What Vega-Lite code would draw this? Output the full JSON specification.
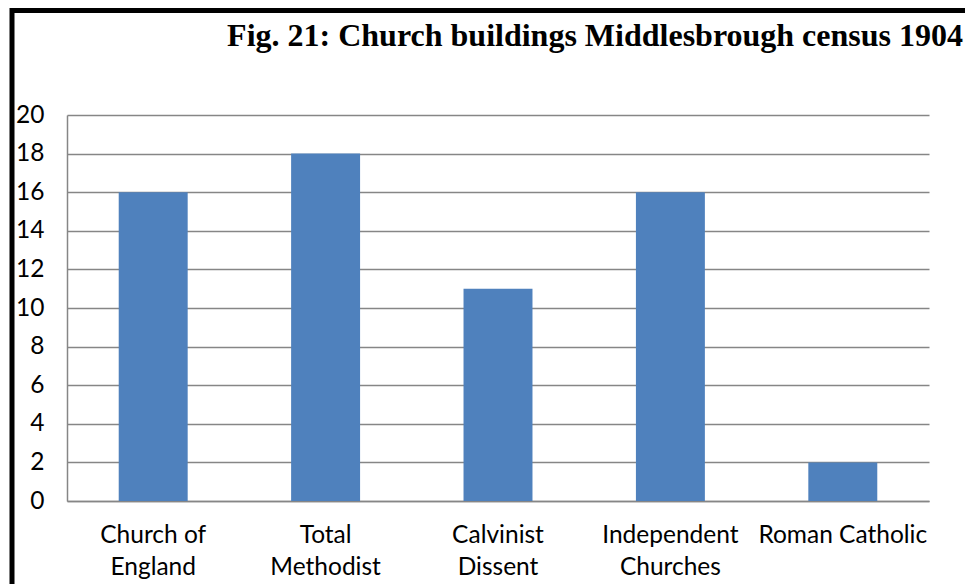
{
  "$schema": "https://vega.github.io/schema/vega-lite/v6.json",
  "width": 862,
  "height": 386,
  "autosize": "none",
  "padding": {"left": 67, "top": 115, "right": 36, "bottom": 83},
  "background": "white",
  "title": {
    "text": "Fig. 21: Church buildings Middlesbrough census 1904",
    "anchor": "end",
    "frame": "group",
    "font": "Liberation Serif",
    "fontSize": 32,
    "fontWeight": "bold",
    "color": "black",
    "dx": 34,
    "offset": -45
  },
  "data": {
    "values": [
      {"denomination": "Church of England", "buildings": 16},
      {"denomination": "Total Methodist", "buildings": 18},
      {"denomination": "Calvinist Dissent", "buildings": 11},
      {"denomination": "Independent Churches", "buildings": 16},
      {"denomination": "Roman Catholic", "buildings": 2}
    ]
  },
  "mark": {"type": "bar", "color": "#4F81BD"},
  "encoding": {
    "x": {
      "field": "denomination",
      "type": "nominal",
      "sort": null,
      "scale": {"paddingInner": 0.6, "paddingOuter": 0.3},
      "axis": {
        "title": null,
        "labelAngle": 0,
        "ticks": false,
        "domainColor": "#868686",
        "domainWidth": 1.5,
        "labelFont": "Lato",
        "labelFontSize": 24.5,
        "labelColor": "black",
        "labelPadding": 22,
        "labelLineHeight": 32,
        "labelExpr": "datum.value == 'Church of England' ? ['Church of', 'England'] : datum.value == 'Roman Catholic' ? datum.value : split(datum.value, ' ')"
      }
    },
    "y": {
      "field": "buildings",
      "type": "quantitative",
      "scale": {"domain": [0, 20]},
      "axis": {
        "title": null,
        "values": [0, 2, 4, 6, 8, 10, 12, 14, 16, 18, 20],
        "ticks": false,
        "domainColor": "#868686",
        "domainWidth": 1.5,
        "gridColor": "#868686",
        "gridWidth": 1.5,
        "labelFont": "Lato",
        "labelFontSize": 24.5,
        "labelColor": "black",
        "labelPadding": 23
      }
    },
    "color": {
      "datum": "frame",
      "scale": {"range": ["#4F81BD"]},
      "legend": {
        "orient": "none",
        "legendX": -55,
        "legendY": -104.5,
        "title": null,
        "strokeColor": "black",
        "padding": 700,
        "symbolSize": 0,
        "symbolOpacity": 0,
        "labelExpr": "''",
        "encode": {"legend": {"update": {"strokeWidth": {"value": 5}}}}
      }
    }
  },
  "config": {"view": {"stroke": null}}
}
